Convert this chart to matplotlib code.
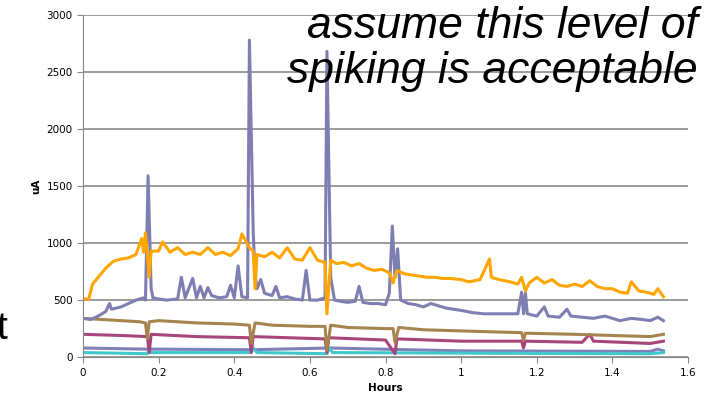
import matplotlib
matplotlib.use("Agg")
import matplotlib.pyplot as plt

orange_x = [0,0.015,0.025,0.04,0.06,0.08,0.1,0.12,0.14,0.155,0.16,0.165,0.175,0.18,0.2,0.21,0.23,0.25,0.27,0.29,0.31,0.33,0.35,0.37,0.39,0.41,0.42,0.44,0.45,0.455,0.46,0.48,0.5,0.52,0.54,0.56,0.58,0.6,0.62,0.64,0.645,0.655,0.67,0.69,0.71,0.73,0.75,0.77,0.79,0.81,0.82,0.83,0.85,0.87,0.89,0.91,0.93,0.95,0.97,1.0,1.02,1.05,1.075,1.08,1.1,1.13,1.15,1.16,1.17,1.18,1.2,1.22,1.24,1.26,1.28,1.3,1.32,1.34,1.36,1.38,1.4,1.42,1.44,1.45,1.47,1.49,1.51,1.52,1.535]
orange_y = [510,510,640,700,780,840,860,870,900,1040,920,1090,700,930,930,1010,920,960,900,920,900,960,900,920,890,950,1080,960,930,600,900,880,920,870,960,860,850,960,850,830,380,850,820,830,800,820,780,760,770,740,650,760,730,720,710,700,700,690,690,680,660,680,860,700,680,660,640,700,580,650,700,650,680,630,620,640,620,670,620,600,600,570,560,660,580,570,550,600,530]

purple_x = [0,0.02,0.04,0.06,0.07,0.075,0.1,0.12,0.14,0.16,0.165,0.172,0.18,0.185,0.2,0.22,0.25,0.26,0.27,0.29,0.3,0.31,0.32,0.33,0.34,0.36,0.38,0.39,0.4,0.41,0.42,0.435,0.44,0.45,0.455,0.46,0.47,0.48,0.5,0.51,0.52,0.54,0.56,0.58,0.59,0.6,0.62,0.64,0.645,0.655,0.665,0.68,0.7,0.72,0.73,0.74,0.76,0.78,0.8,0.81,0.818,0.825,0.832,0.84,0.86,0.88,0.9,0.92,0.94,0.96,0.98,1.0,1.03,1.06,1.09,1.12,1.15,1.16,1.165,1.17,1.175,1.2,1.22,1.23,1.26,1.28,1.29,1.32,1.35,1.38,1.4,1.42,1.45,1.48,1.5,1.52,1.535]
purple_y = [340,330,360,400,470,420,440,470,500,520,500,1590,600,520,510,500,510,700,520,690,520,620,520,610,540,520,530,630,520,800,530,520,2780,1100,720,600,680,560,540,620,520,530,510,500,760,500,500,520,2680,700,500,490,480,490,620,480,470,470,460,560,1150,700,950,500,470,460,440,470,450,430,420,410,390,380,380,380,380,570,380,560,380,360,440,360,350,420,360,350,340,360,340,320,340,330,320,350,320]

brown_x = [0,0.05,0.1,0.15,0.165,0.17,0.175,0.2,0.3,0.4,0.44,0.445,0.455,0.5,0.6,0.64,0.645,0.655,0.7,0.8,0.82,0.825,0.835,0.9,1.0,1.1,1.16,1.165,1.17,1.3,1.4,1.5,1.535]
brown_y = [340,330,320,310,300,160,310,320,300,290,280,120,300,280,270,270,60,280,260,250,250,130,260,240,230,220,215,150,210,200,190,180,200]

magenta_x = [0,0.1,0.17,0.175,0.18,0.3,0.44,0.445,0.45,0.64,0.645,0.65,0.8,0.825,0.83,1.0,1.16,1.165,1.17,1.32,1.34,1.35,1.5,1.535]
magenta_y = [200,190,180,40,200,180,170,40,180,160,40,170,150,30,160,140,140,80,140,130,200,140,120,140]

slate_x = [0,0.17,0.2,0.45,0.65,1.0,1.5,1.52,1.535]
slate_y = [80,70,70,65,80,55,50,70,55]

cyan_x = [0,0.17,0.175,0.18,0.44,0.45,0.46,0.645,0.65,0.66,1.0,1.5,1.535]
cyan_y = [40,30,70,40,40,80,40,30,80,40,35,30,40]

fig = plt.figure(figsize=(7.1,4.04), dpi=100)
ax = fig.add_axes([0.117,0.116,0.852,0.847])
lw = 2.2
ax.plot(slate_x, slate_y, color="#8080B8", lw=lw)
ax.plot(cyan_x, cyan_y, color="#40C8CC", lw=lw)
ax.plot(magenta_x, magenta_y, color="#A8457A", lw=lw)
ax.plot(brown_x, brown_y, color="#A5844E", lw=lw)
ax.plot(purple_x, purple_y, color="#7E7EB2", lw=lw)
ax.plot(orange_x, orange_y, color="#FFA500", lw=lw)
ax.set_xlim(0,1.6); ax.set_ylim(0,3000)
ax.set_xticks([0,0.2,0.4,0.6,0.8,1,1.2,1.4,1.6])
ax.set_xticklabels(["0","0.2","0.4","0.6","0.8","1","1.2","1.4","1.6"])
ax.set_yticks(range(0,3001,500))
ax.tick_params(labelsize=7.5, length=4, color="#888888")
ax.grid(axis="y", color="#8a8a8a", lw=1.2)
ax.set_axisbelow(True)
for s in ["top","right"]:
    ax.spines[s].set_visible(False)
ax.spines["left"].set_color("#888888"); ax.spines["bottom"].set_color("#888888")
ax.set_xlabel("Hours", fontsize=7.5, fontweight="bold")
ax.set_ylabel("uA", fontsize=7.5, fontweight="bold")
fig.text(0.983, 0.985, "assume this level of\nspiking is acceptable", ha="right", va="top",
         fontsize=32, style="italic", family="Liberation Sans", linespacing=1.12)
fig.text(-0.005, 0.16, "t", fontsize=28, family="Liberation Sans")
fig.savefig("out.png", dpi=100)
